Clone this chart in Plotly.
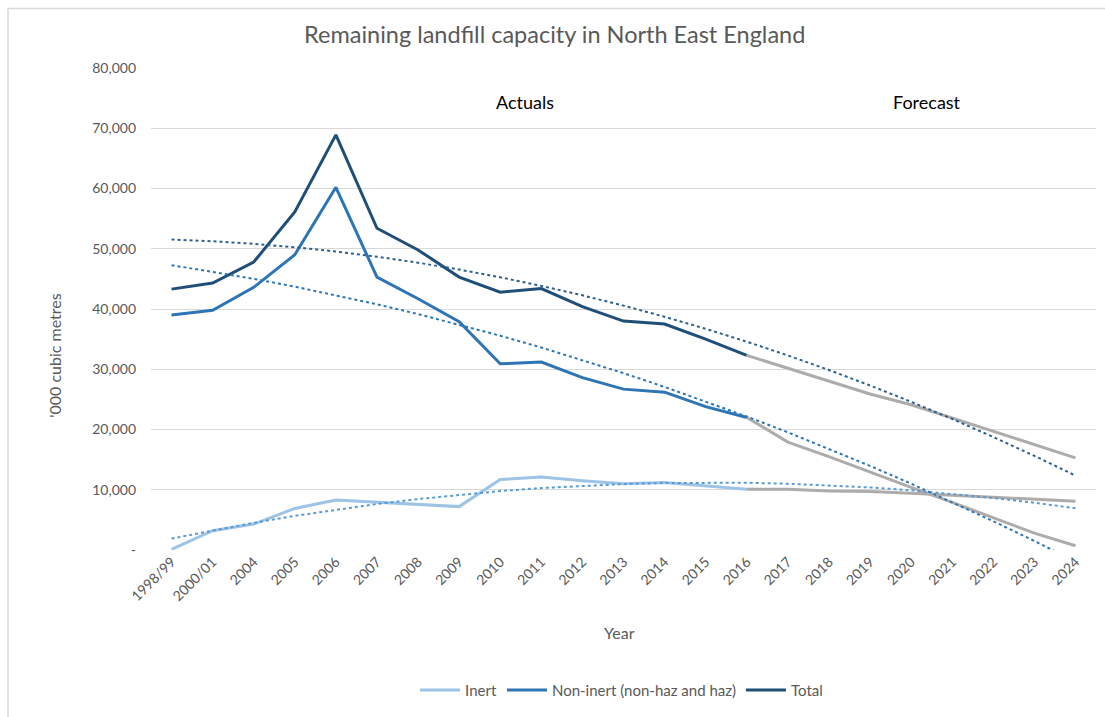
import numpy as np
import plotly.graph_objects as go

categories = ["1998/99", "2000/01", "2004", "2005", "2006", "2007", "2008", "2009",
              "2010", "2011", "2012", "2013", "2014", "2015", "2016", "2017", "2018",
              "2019", "2020", "2021", "2022", "2023", "2024"]

# Actuals (1998/99 - 2016)
inert_actual = [100, 3200, 4300, 6900, 8300, 7900, 7600, 7200, 11700, 12100, 11500,
                11000, 11200, 10700, 10100]
noninert_actual = [39000, 39800, 43600, 49000, 60200, 45300, 41700, 37900, 30900, 31200,
                   28600, 26700, 26200, 23800, 22000]
total_actual = [43300, 44300, 47800, 56100, 68900, 53400, 49800, 45300, 42800, 43400,
                40400, 38000, 37500, 35000, 32300]

# Forecast (2016 - 2024)
inert_forecast = [10100, 10100, 9800, 9700, 9400, 9100, 8750, 8500, 8100]
noninert_forecast = [22000, 17900, 15500, 12900, 10400, 7900, 5400, 2800, 700]
total_forecast = [32300, 30200, 28000, 25900, 24100, 21900, 19700, 17400, 15300]

y_tickvals = [0, 10000, 20000, 30000, 40000, 50000, 60000, 70000, 80000]
y_ticktext = ["-", "10,000", "20,000", "30,000", "40,000", "50,000", "60,000", "70,000", "80,000"]

n_act = len(inert_actual)
fc_cats = categories[n_act - 1:]
act_cats = categories[:n_act]

C_INERT = "#9DC3E6"
C_NONINERT = "#2E75B6"
C_TOTAL = "#1F4E79"
C_FC = "#AEABAB"
FONT = "Lato"

fig = go.Figure()

def full_series(act, fc):
    return list(act) + list(fc[1:])

# actual lines
for name, vals, col in [("Inert", inert_actual, C_INERT),
                        ("Non-inert (non-haz and haz)", noninert_actual, C_NONINERT),
                        ("Total", total_actual, C_TOTAL)]:
    fig.add_trace(go.Scatter(x=act_cats, y=vals, mode="lines", name=name,
                             line=dict(color=col, width=3), showlegend=True))

# forecast lines
for vals in [inert_forecast, noninert_forecast, total_forecast]:
    fig.add_trace(go.Scatter(x=fc_cats, y=vals, mode="lines", showlegend=False,
                             line=dict(color=C_FC, width=3)))

# polynomial (order 2) trendlines over the full series
idx = np.arange(len(categories))
for act, fc, col in [(inert_actual, inert_forecast, "#5B9BD5"),
                     (noninert_actual, noninert_forecast, "#2E75B6"),
                     (total_actual, total_forecast, "#2F5F8F")]:
    ys = np.array(full_series(act, fc), dtype=float)
    coef = np.polyfit(idx, ys, 2)
    trend = np.polyval(coef, idx)
    fig.add_trace(go.Scatter(x=categories, y=trend, mode="lines", showlegend=False,
                             line=dict(color=col, width=2, dash="dot")))

# vertical divider at 2016
fig.add_shape(type="line", xref="x", yref="y", x0="2016", x1="2016", y0=0, y1=80000,
              line=dict(color="#7F7F7F", width=1, dash="dash"))

# chart border
fig.add_shape(type="rect", xref="paper", yref="paper", x0=-0.1513, x1=1.015,
              y0=-0.37, y1=1.1236, line=dict(color="#D9D9D9", width=1.5), layer="below")

fig.add_annotation(text="Actuals", xref="paper", yref="paper", x=0.396, y=0.93,
                   xanchor="center", yanchor="middle", showarrow=False,
                   font=dict(family=FONT, size=18, color="#000000"))
fig.add_annotation(text="Forecast", xref="paper", yref="paper", x=0.821, y=0.93,
                   xanchor="center", yanchor="middle", showarrow=False,
                   font=dict(family=FONT, size=18, color="#000000"))
fig.add_annotation(text="Year", xref="paper", yref="paper", x=0.496, y=-0.172,
                   xanchor="center", yanchor="middle", showarrow=False,
                   font=dict(family=FONT, size=16, color="#595959"))
fig.add_annotation(text="'000 cubic metres", xref="paper", yref="paper", x=-0.1016, y=0.405,
                   xanchor="center", yanchor="middle", showarrow=False, textangle=-90,
                   font=dict(family=FONT, size=16, color="#595959"))

fig.update_layout(
    width=1105, height=717, autosize=False,
    margin=dict(l=151, r=9, t=68, b=167),
    paper_bgcolor="white", plot_bgcolor="white",
    font=dict(family=FONT, size=14, color="#595959"),
    title=dict(text="Remaining landfill capacity in North East England",
               x=0.502, xanchor="center", y=0.951, yanchor="middle",
               font=dict(family=FONT, size=23.5, color="#595959")),
    xaxis=dict(type="category", categoryorder="array", categoryarray=categories,
               range=[-0.5, len(categories) - 0.5], tickangle=-45,
               showgrid=False, zeroline=False, showline=False, ticks="",
               tickfont=dict(family=FONT, size=14, color="#595959")),
    yaxis=dict(range=[0, 80000], tickvals=y_tickvals, ticktext=y_ticktext,
               showgrid=True, gridcolor="#D9D9D9", gridwidth=1, zeroline=False,
               showline=False, ticks="", ticklabelstandoff=14,
               tickfont=dict(family=FONT, size=14, color="#595959")),
    legend=dict(orientation="h", x=0.498, xanchor="center", y=-0.291, yanchor="middle",
                font=dict(family=FONT, size=15, color="#595959"),
                itemwidth=40, tracegroupgap=0),
)

fig.write_html("out.html")
